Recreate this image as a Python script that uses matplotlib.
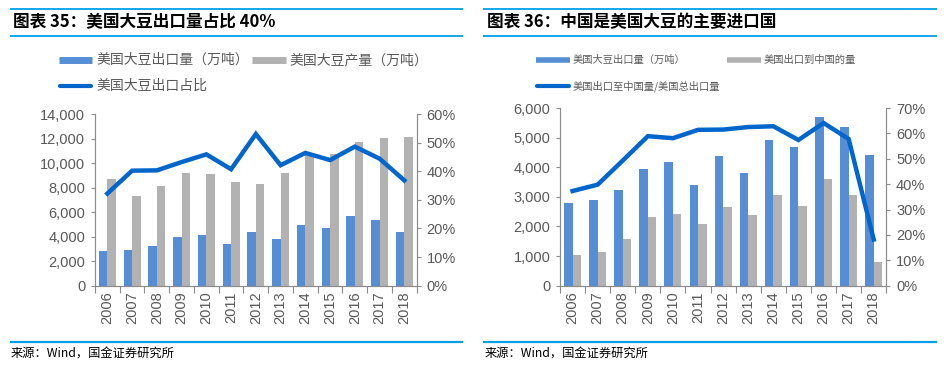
import matplotlib
matplotlib.use("Agg")
import matplotlib.pyplot as plt
import numpy as np
from matplotlib.lines import Line2D
from matplotlib.ticker import FuncFormatter, MultipleLocator, FixedLocator

plt.rcParams['font.family'] = ['Liberation Sans', 'Noto Sans CJK SC', 'DejaVu Sans']
CJK = ['Noto Sans CJK SC', 'DejaVu Sans']

years = ['2006', '2007', '2008', '2009', '2010', '2011', '2012', '2013',
         '2014', '2015', '2016', '2017', '2018']
us_exports = [2800, 2900, 3240, 3950, 4160, 3400, 4370, 3820, 4930, 4680, 5690, 5370, 4410]
us_production = [8720, 7300, 8090, 9190, 9080, 8420, 8310, 9190, 10690, 10720, 11730, 12060, 12110]
export_share = [32.2, 40.2, 40.3, 43.2, 45.9, 40.7, 53.0, 42.1, 46.4, 43.9, 48.6, 44.4, 36.8]
to_china = [1030, 1140, 1570, 2310, 2410, 2075, 2670, 2380, 3070, 2680, 3610, 3060, 800]
china_share = [37.3, 39.8, 49.3, 58.9, 58.1, 61.4, 61.5, 62.5, 62.8, 57.4, 64.1, 57.8, 18.2]

title_left = '图表 35：美国大豆出口量占比 40%'
title_right = '图表 36：中国是美国大豆的主要进口国'
legend_left = ['美国大豆出口量（万吨）', '美国大豆产量（万吨）', '美国大豆出口占比']
legend_right = ['美国大豆出口量（万吨）', '美国出口到中国的量', '美国出口至中国量/美国总出口量']
source = '来源：Wind，国金证券研究所'

BLUE = '#558ED5'
GREY = '#B2B2B2'
LINE = '#0066CC'
RULE = '#00A0E9'
AXC = '#8C8C8C'
TXT = '#595959'

W, H = 951, 371
fig = plt.figure(figsize=(W / 100, H / 100), dpi=100)


def fx(px):
    return px / W


def fy(py):
    return 1 - py / H


def panel(x0, x1, y_top, y_bot, bars_a, bars_b, line, ymax, ystep, pmax):
    ax = fig.add_axes([fx(x0), fy(y_bot), fx(x1 - x0), fy(y_top) - fy(y_bot)])
    x = np.arange(len(years))
    w = 0.34
    ax.bar(x - w / 2, bars_a, width=w, color=BLUE, zorder=2)
    ax.bar(x + w / 2, bars_b, width=w, color=GREY, zorder=2)
    ax.set_xlim(-0.5, len(years) - 0.5)
    ax.set_ylim(0, ymax)
    ax.yaxis.set_major_locator(MultipleLocator(ystep))
    ax.yaxis.set_major_formatter(FuncFormatter(lambda v, p: f'{int(v):,}'))
    ax.set_xticks(x)
    ax.set_xticklabels(years, rotation=90, fontsize=10.5, color=TXT)
    ax.xaxis.set_minor_locator(FixedLocator(np.arange(-0.5, len(years), 1.0)))
    ax.tick_params(axis='x', which='major', length=0, pad=4)
    ax.tick_params(axis='x', which='minor', length=5, color=AXC, width=0.8)
    ax.tick_params(axis='y', length=3, color=AXC, width=0.8, labelsize=10.5,
                   labelcolor=TXT, pad=4)
    ax.spines['top'].set_visible(False)
    for s in ['left', 'right', 'bottom']:
        ax.spines[s].set_color(AXC)
        ax.spines[s].set_linewidth(0.8)
    ax2 = ax.twinx()
    ax2.plot(x, line, color=LINE, lw=3.2, solid_joinstyle='miter', zorder=3)
    ax2.set_ylim(0, pmax)
    ax2.yaxis.set_major_locator(MultipleLocator(10))
    ax2.yaxis.set_major_formatter(FuncFormatter(lambda v, p: f'{int(round(v))}%'))
    ax2.tick_params(axis='y', length=3, color=AXC, width=0.8, labelsize=10.5,
                    labelcolor=TXT, pad=4)
    ax2.spines['top'].set_visible(False)
    for s in ['left', 'right', 'bottom']:
        ax2.spines[s].set_color(AXC)
        ax2.spines[s].set_linewidth(0.8)
    return ax, ax2


panel(95, 416.7, 114, 285.7, us_exports, us_production, export_share, 14000, 2000, 60)
panel(560, 886.3, 108, 285.7, us_exports, to_china, china_share, 6000, 1000, 70)


def hline(x0, x1, y, color=RULE, lw=1.3, cap='butt'):
    fig.add_artist(Line2D([fx(x0), fx(x1)], [fy(y), fy(y)], color=color, lw=lw,
                          solid_capstyle=cap, transform=fig.transFigure))


# header / footer rules
for (a, b) in [(10, 463), (483, 937)]:
    hline(a, b, 8.7)
    hline(a, b, 35.7)
    hline(a, b, 341.7, lw=1.6)

fig.text(fx(13), fy(22), title_left, fontsize=12, fontweight='bold',
         family=CJK, va='center', ha='left', color='black')
fig.text(fx(487), fy(22), title_right, fontsize=12, fontweight='bold',
         family=CJK, va='center', ha='left', color='black')

fig.text(fx(11), fy(354), source, fontsize=8.8, family=CJK, va='center', ha='left',
         color='black')
fig.text(fx(485), fy(354), source, fontsize=8.8, family=CJK, va='center', ha='left',
         color='black')


def leg_bar(x0, x1, y, color, lw):
    hline(x0, x1, y, color=color, lw=lw)


leg_bar(59, 92, 60, BLUE, 5)
fig.text(fx(96), fy(60), legend_left[0], fontsize=10, family=CJK, va='center',
         ha='left', color=TXT)
leg_bar(252, 286, 60, GREY, 5)
fig.text(fx(289), fy(60), legend_left[1], fontsize=10, family=CJK, va='center',
         ha='left', color=TXT)
hline(60, 91, 86, color=LINE, lw=3, cap='round')
fig.text(fx(96), fy(86), legend_left[2], fontsize=10, family=CJK, va='center',
         ha='left', color=TXT)

leg_bar(536, 570, 60, BLUE, 4)
fig.text(fx(573), fy(60), legend_right[0], fontsize=7.4, family=CJK, va='center',
         ha='left', color=TXT)
leg_bar(727, 761, 60, GREY, 4)
fig.text(fx(764), fy(60), legend_right[1], fontsize=7.4, family=CJK, va='center',
         ha='left', color=TXT)
hline(537, 569, 86, color=LINE, lw=3, cap='round')
fig.text(fx(573), fy(86), legend_right[2], fontsize=7.4, family=CJK, va='center',
         ha='left', color=TXT)

fig.savefig('out.png', dpi=100)
